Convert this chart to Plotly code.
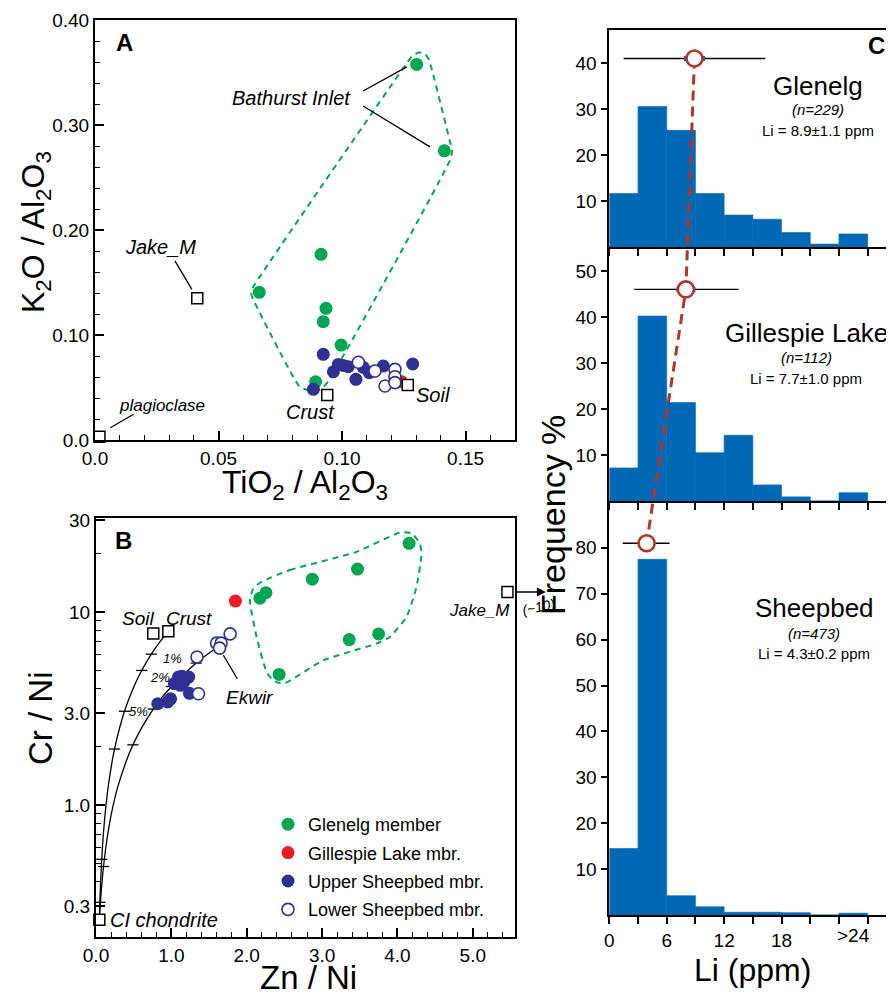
import math
import plotly.graph_objects as go

# The page has an 8px body margin, so the figure is drawn 8px in from the window's corner.
OFF = 8
FW, FH = 886, 988
FONT = "Liberation Sans, Arial, Helvetica, sans-serif"
GREEN = "#00a651"
RED = "#ed1c24"
NAVY = "#2e3192"
HBLUE = "#0068b5"
MEANRED = "#b2352b"

# ---------------- Panel A : K2O/Al2O3 vs TiO2/Al2O3 ----------------
a_glenelg_x = [0.1302, 0.1414, 0.0915, 0.0665, 0.0935, 0.0924, 0.0996, 0.0893]
a_glenelg_y = [0.3577, 0.2754, 0.1768, 0.1406, 0.1254, 0.1127, 0.0904, 0.0555]
a_gillespie_x = [0.1241]
a_gillespie_y = [0.0555]
a_upper_x = [0.0924, 0.0884, 0.0965, 0.0985, 0.1005, 0.1025, 0.1056, 0.1086, 0.1110, 0.1167, 0.1286]
a_upper_y = [0.0816, 0.0483, 0.0650, 0.0720, 0.0710, 0.0698, 0.0578, 0.0692, 0.0641, 0.0704, 0.0724]
a_lower_x = [0.1066, 0.1133, 0.1174, 0.1214, 0.1214, 0.1214]
a_lower_y = [0.0740, 0.0657, 0.0514, 0.0673, 0.0603, 0.0546]
a_ref_names = ["plagioclase", "Jake_M", "Crust", "Soil"]
a_ref_x = [0.0018, 0.0414, 0.0940, 0.1266]
a_ref_y = [0.0031, 0.1349, 0.0428, 0.0524]
a_field_x = [0.0641, 0.0632, 0.0640, 0.0828, 0.0870, 0.0912, 0.0945, 0.1440, 0.1445, 0.1438,
             0.1352, 0.1335, 0.1310, 0.1285, 0.1262, 0.0641]
a_field_y = [0.146, 0.140, 0.134, 0.0507, 0.0470, 0.0480, 0.0560, 0.268, 0.276, 0.283,
             0.362, 0.368, 0.369, 0.366, 0.359, 0.146]

# ---------------- Panel B : Cr/Ni vs Zn/Ni ----------------
b_glenelg_x = [4.155, 3.47, 2.87, 2.255, 2.175, 3.36, 3.75, 2.43]
b_glenelg_y = [22.7, 16.7, 14.8, 12.6, 11.8, 7.2, 7.7, 4.75]
b_gillespie_x = [1.85]
b_gillespie_y = [11.4]
b_upper_x = [0.82, 0.95, 0.99, 1.04, 1.095, 1.14, 1.19, 1.23, 1.12, 1.16, 1.24]
b_upper_y = [3.35, 3.42, 3.55, 4.26, 4.6, 4.65, 4.52, 4.6, 4.17, 4.3, 3.79]
b_lower_x = [1.34, 1.36, 1.60, 1.66, 1.64, 1.78]
b_lower_y = [5.85, 3.77, 6.9, 6.9, 6.5, 7.7]
b_ref_names = ["CI chondrite", "Soil", "Crust", "Jake_M"]
b_ref_x = [0.044, 0.76, 0.96, 5.46]
b_ref_y = [0.254, 7.73, 7.95, 12.7]
b_field_x = [2.197, 2.573, 3.457, 4.032, 4.187, 4.297, 4.319, 4.253, 4.121, 3.899, 3.722,
             3.015, 2.484, 2.352, 2.264, 2.131, 2.042, 2.086, 2.197]
b_field_y = [14.35, 16.5, 20.5, 25.8, 25.6, 22.7, 20.1, 13.5, 9.44, 7.43, 6.86,
             5.62, 4.25, 4.42, 4.89, 7.43, 11.5, 13.2, 14.35]
mix_crust_x = [0.044, 0.051, 0.060, 0.076, 0.10, 0.13, 0.17, 0.246, 0.378, 0.52, 0.607, 0.734, 0.85, 0.96]
mix_crust_y = [0.254, 0.313, 0.388, 0.523, 0.724, 0.976, 1.312, 1.951, 3.06, 4.25, 4.98, 6.05, 7.02, 7.95]
mix_ekwir_x = [0.044, 0.055, 0.07, 0.10, 0.14, 0.20, 0.29, 0.49, 0.76, 1.0, 1.33, 1.62]
mix_ekwir_y = [0.254, 0.298, 0.359, 0.480, 0.641, 0.883, 1.245, 2.05, 3.14, 4.11, 5.44, 6.60]
mix_ticks_x = [0.734, 0.607, 0.378, 0.246, 0.076, 0.051, 1.33, 1.0, 0.76, 0.49, 0.10]
mix_ticks_y = [6.05, 4.98, 3.06, 1.95, 0.523, 0.313, 5.44, 4.11, 3.14, 2.05, 0.48]

# ---------------- Panel C : Li histograms ----------------
li_bin_centers = [1.5, 4.5, 7.5, 10.5, 13.5, 16.5, 19.5, 22.5, 25.5]
li_glenelg = [11.7, 30.6, 25.4, 11.7, 7.0, 6.1, 3.2, 0.7, 2.9]
li_gillespie = [7.2, 40.2, 21.4, 10.5, 14.3, 3.5, 0.9, 0.0, 1.8]
li_sheepbed = [14.5, 77.5, 4.2, 1.8, 0.6, 0.6, 0.5, 0.0, 0.4]
li_mean_x = [8.9, 8.0, 3.9]
li_mean_h = [41, 46, 81]
li_sd_minus = [7.4, 5.4, 2.5]
li_sd_plus = [7.4, 5.5, 2.4]
li_se = [1.1, 1.0, 0.2]
li_titles = ["Glenelg", "Gillespie Lake", "Sheepbed"]
li_n = ["(n=229)", "(n=112)", "(n=473)"]
li_stats = ["Li = 8.9±1.1 ppm", "Li = 7.7±1.0 ppm", "Li = 4.3±0.2 ppm"]
li_ticktext = ["0", "", "6", "", "12", "", "18", "", "", ""]


def xdom(p0, p1):
    return [max((p0 - OFF) / FW, 0.0), min((p1 - OFF) / FW, 1.0)]


def ydom(top, bot):
    return [max(1 - (bot - OFF) / FH, 0.0), min(1 - (top - OFF) / FH, 1.0)]


def P(px, py):
    return (px - OFF) / FW, 1 - (py - OFF) / FH


# pixel layout of panels (window pixels)
A_X, A_Y = (95, 515), (20, 440)
B_X, B_Y = (96, 515), (518, 937)
C_X = (609.3, 894)
C_PANELS = [(30, 247.3, 47.2), (247.3, 501, 55.15), (501, 915, 90.2)]
C_XMAX = 29.75


def overlay_y(i, v):
    top, bot, rmax = C_PANELS[i]
    py = bot - v / rmax * (bot - top)
    return (915 - py) / (915 - 30)


fig = go.Figure()


def pts(x, y, xa, ya, color, filled=True, name=None, legend=False, size=13):
    if filled:
        m = dict(size=size, color=color, line=dict(width=0))
    else:
        m = dict(size=size - 1, color="white", line=dict(width=1.6, color=color))
    return go.Scatter(x=x, y=y, xaxis=xa, yaxis=ya, mode="markers", marker=m,
                      name=name, showlegend=legend, legendgroup=name, hoverinfo="skip")


def squares(x, y, xa, ya):
    return go.Scatter(x=x, y=y, xaxis=xa, yaxis=ya, mode="markers", showlegend=False,
                      marker=dict(symbol="square", size=11, color="white",
                                  line=dict(width=1.5, color="black")),
                      cliponaxis=False, hoverinfo="skip")


# Panel A traces
fig.add_trace(go.Scatter(x=a_field_x, y=a_field_y, xaxis="x", yaxis="y", mode="lines",
                         line=dict(color=GREEN, width=2, dash="6px,5px", shape="spline", smoothing=0.4),
                         showlegend=False, hoverinfo="skip"))
fig.add_trace(pts(a_glenelg_x, a_glenelg_y, "x", "y", GREEN))
fig.add_trace(pts(a_gillespie_x, a_gillespie_y, "x", "y", RED))
fig.add_trace(pts(a_upper_x, a_upper_y, "x", "y", NAVY))
fig.add_trace(pts(a_lower_x, a_lower_y, "x", "y", NAVY, filled=False))
fig.add_trace(squares(a_ref_x, a_ref_y, "x", "y"))

# Panel B traces
fig.add_trace(go.Scatter(x=b_field_x, y=b_field_y, xaxis="x2", yaxis="y2", mode="lines",
                         line=dict(color=GREEN, width=2, dash="6px,5px", shape="spline", smoothing=0.5),
                         showlegend=False, hoverinfo="skip"))
for mx, my in [(mix_crust_x, mix_crust_y), (mix_ekwir_x, mix_ekwir_y)]:
    fig.add_trace(go.Scatter(x=mx, y=my, xaxis="x2", yaxis="y2", mode="lines",
                             line=dict(color="black", width=1.3, shape="spline"),
                             showlegend=False, hoverinfo="skip", cliponaxis=False))
fig.add_trace(go.Scatter(x=mix_ticks_x, y=mix_ticks_y, xaxis="x2", yaxis="y2", mode="markers",
                         marker=dict(symbol="line-ew", size=8, line=dict(width=1.3, color="black")),
                         showlegend=False, hoverinfo="skip"))
fig.add_trace(pts(b_glenelg_x, b_glenelg_y, "x2", "y2", GREEN, name="Glenelg member", legend=True))
fig.add_trace(pts(b_gillespie_x, b_gillespie_y, "x2", "y2", RED, name="Gillespie Lake mbr.", legend=True))
fig.add_trace(pts(b_upper_x, b_upper_y, "x2", "y2", NAVY, name="Upper Sheepbed mbr.", legend=True))
fig.add_trace(pts(b_lower_x, b_lower_y, "x2", "y2", NAVY, filled=False, name="Lower Sheepbed mbr.", legend=True))
fig.add_trace(squares(b_ref_x, b_ref_y, "x2", "y2"))

# Panel C histograms
for k, vals in enumerate([li_glenelg, li_gillespie, li_sheepbed]):
    fig.add_trace(go.Bar(x=li_bin_centers, y=vals, width=3, xaxis="x%d" % (k + 3), yaxis="y%d" % (k + 3),
                         marker=dict(color=HBLUE, line=dict(width=0.6, color=HBLUE)),
                         showlegend=False, hoverinfo="skip"))

# overlay: means, error bars and dashed connector
oy = [overlay_y(i, v) for i, v in enumerate(li_mean_h)]
fig.add_trace(go.Scatter(x=li_mean_x, y=oy, xaxis="x6", yaxis="y6", mode="lines",
                         line=dict(color=MEANRED, width=3, dash="10px,6px"), showlegend=False, hoverinfo="skip"))
fig.add_trace(go.Scatter(x=li_mean_x, y=oy, xaxis="x6", yaxis="y6", mode="markers",
                         marker=dict(size=2, color="rgba(0,0,0,0)"),
                         error_x=dict(type="data", symmetric=False, array=li_sd_plus, arrayminus=li_sd_minus,
                                      color="black", thickness=1.4, width=0),
                         showlegend=False, hoverinfo="skip"))
fig.add_trace(go.Scatter(x=li_mean_x, y=oy, xaxis="x6", yaxis="y6", mode="markers",
                         marker=dict(size=2, color="rgba(0,0,0,0)"),
                         error_x=dict(type="data", array=li_se, color=HBLUE, thickness=5, width=0),
                         showlegend=False, hoverinfo="skip"))
fig.add_trace(go.Scatter(x=li_mean_x, y=oy, xaxis="x6", yaxis="y6", mode="markers",
                         marker=dict(size=16, color="white", line=dict(width=2.6, color=MEANRED)),
                         showlegend=False, hoverinfo="skip", cliponaxis=False))

# ---------------- axes ----------------
tickfont = dict(family=FONT, size=19, color="black")
box = dict(showline=True, linecolor="black", linewidth=2, mirror=True, showgrid=False, zeroline=False,
           ticks="inside", ticklen=9, tickwidth=1.5, tickcolor="black", tickfont=tickfont, automargin=False)

layout_axes = dict(
    xaxis=dict(domain=xdom(*A_X), range=[0, 0.17], tickvals=[0, 0.05, 0.10, 0.15],
               ticktext=["0.0", "0.05", "0.10", "0.15"], anchor="y",
               minor=dict(ticks="inside", ticklen=5, tickwidth=1.2, dtick=0.01, tick0=0, tickcolor="black"), **box),
    yaxis=dict(domain=ydom(*A_Y), range=[0, 0.40], tickvals=[0, 0.1, 0.2, 0.3, 0.4],
               ticktext=["0.0", "0.10", "0.20", "0.30", "0.40"], anchor="x",
               minor=dict(ticks="inside", ticklen=5, tickwidth=1.2, dtick=0.02, tick0=0, tickcolor="black"), **box),
    xaxis2=dict(domain=xdom(*B_X), range=[0, 5.56], tickvals=[0, 1, 2, 3, 4, 5],
                ticktext=["0.0", "1.0", "2.0", "3.0", "4.0", "5.0"], anchor="y2",
                minor=dict(ticks="inside", ticklen=5, tickwidth=1.2, dtick=0.2, tick0=0, tickcolor="black"), **box),
    yaxis2=dict(domain=ydom(*B_Y), type="log", range=[math.log10(0.207), math.log10(30.7)],
                tickvals=[0.3, 1, 3, 10, 30], ticktext=["0.3", "1.0", "3.0", "10", "30"], anchor="x2",
                minor=dict(ticks="inside", ticklen=5, tickwidth=1.2, tickcolor="black",
                           tickvals=[0.4, 0.5, 0.6, 0.7, 0.8, 0.9, 2, 4, 5, 6, 7, 8, 9, 20]), **box),
)

c_ticks = [0, 3, 6, 9, 12, 15, 18, 21, 24, 27]
c_yt = [[10, 20, 30, 40], [10, 20, 30, 40, 50], [10, 20, 30, 40, 50, 60, 70, 80]]
for k in range(3):
    top, bot, rmax = C_PANELS[k]
    n = k + 3
    layout_axes["xaxis%d" % n] = dict(domain=xdom(*C_X), range=[0, C_XMAX], anchor="y%d" % n,
                                      showline=True, linecolor="black", linewidth=1.6,
                                      mirror=(k == 0), showgrid=False, zeroline=False,
                                      tickvals=c_ticks, ticktext=li_ticktext, ticks="outside", ticklen=7,
                                      tickwidth=1.5, tickcolor="black", showticklabels=(k == 2),
                                      tickfont=tickfont, automargin=False)
    layout_axes["yaxis%d" % n] = dict(domain=ydom(top, bot), range=[0, rmax], anchor="x%d" % n,
                                      showline=True, linecolor="black", linewidth=1.6, showgrid=False,
                                      zeroline=False, tickvals=c_yt[k], ticks="outside", ticklen=7,
                                      tickwidth=1.5, tickcolor="black", tickfont=tickfont, automargin=False)
layout_axes["xaxis6"] = dict(domain=xdom(*C_X), range=[0, C_XMAX], anchor="y6", visible=False)
layout_axes["yaxis6"] = dict(domain=ydom(30, 915), range=[0, 1], anchor="x6", visible=False)

fig.update_layout(**layout_axes)

# ---------------- annotations ----------------
ann = []


def text(px, py, s, size, angle=0, bold=False, italic=False, xanchor="center"):
    if bold:
        s = "<b>%s</b>" % s
    if italic:
        s = "<i>%s</i>" % s
    x, y = P(px, py)
    ann.append(dict(x=x, y=y, xref="paper", yref="paper", text=s, showarrow=False, textangle=angle,
                    xanchor=xanchor, yanchor="middle", font=dict(family=FONT, size=size, color="black")))


def pointer(x, y, ax, ay, xa, ya, head=0, width=1.3):
    ann.append(dict(x=x, y=y, ax=ax, ay=ay, xref=xa, yref=ya, axref=xa, ayref=ya, text="",
                    showarrow=True, arrowhead=head, arrowsize=1.2, arrowwidth=width, arrowcolor="black",
                    standoff=0, startstandoff=0))


# Panel A
text(124, 43, "A", 24, bold=True)
text(291.7, 98, "Bathurst Inlet", 20, italic=True)
text(160, 247, "Jake_M", 20, italic=True)
text(162, 405, "plagioclase", 17, italic=True)
text(310, 412, "Crust", 20, italic=True)
text(433, 395, "Soil", 20, italic=True)
text(35, 232, "K<sub>2</sub>O / Al<sub>2</sub>O<sub>3</sub>", 32, angle=-90)
text(305, 485, "TiO<sub>2</sub> / Al<sub>2</sub>O<sub>3</sub>", 32)
pointer(0.1262, 0.3554, 0.1079, 0.3316, "x", "y")
pointer(0.1356, 0.2792, 0.1079, 0.3189, "x", "y")
pointer(0.0392, 0.1435, 0.0320, 0.1720, "x", "y")
pointer(0.0062, 0.0117, 0.0162, 0.0254, "x", "y")

# Panel B
text(123, 540, "B", 24, bold=True)
text(138, 618, "Soil", 19, italic=True)
text(189, 618, "Crust", 19, italic=True)
text(172, 658, "1%", 13, italic=True)
text(160, 677, "2%", 13, italic=True)
text(138, 711, "5%", 13, italic=True)
text(249.5, 697, "Ekwir", 19, italic=True)
text(164, 920, "CI chondrite", 20, italic=True)
text(480, 610, "Jake_M", 17, italic=True)
text(538, 607, "(~10)", 14, angle=-12, italic=True)
text(40, 718, "Cr / Ni", 33, angle=-90)
text(308, 977, "Zn / Ni", 33)
pointer(1.69, math.log10(5.97), 1.887, math.log10(4.43), "x2", "y2")
pointer(5.97, math.log10(12.7), 5.54, math.log10(12.7), "x2", "y2", head=2, width=1.5)

# Panel C
text(876, 45, "C", 24, bold=True)
c_text_pos = [(818, 86, 109, 130), (806, 333, 357, 378), (814, 608, 633, 653)]
for k in range(3):
    cx, y1, y2, y3 = c_text_pos[k]
    text(cx, y1, li_titles[k], 26)
    text(cx, y2, li_n[k], 15, italic=True)
    text(cx, y3, li_stats[k], 15)
text(553, 515, "Frequency %", 34, angle=-90)
text(752, 970, "Li (ppm)", 32)
ann.append(dict(x=25.5, y=1 - (935 - OFF) / FH, xref="x5", yref="paper", text=">24", showarrow=False,
                font=dict(family=FONT, size=19, color="black"), yanchor="middle"))

lx, ly = P(268, 806)
fig.update_layout(
    annotations=ann,
    width=FW, height=FH,
    margin=dict(l=0, r=0, t=0, b=0, pad=0, autoexpand=False),
    paper_bgcolor="white", plot_bgcolor="rgba(0,0,0,0)",
    font=dict(family=FONT, color="black"),
    showlegend=True,
    legend=dict(x=lx, y=ly, xanchor="left", yanchor="top",
                font=dict(family=FONT, size=18, color="black"), bgcolor="rgba(0,0,0,0)",
                tracegroupgap=2, itemclick=False),
)

# keep the window free of scrollbars so the full 894x996 area shows the figure
fig.write_html("out.html", post_script=(
    "document.documentElement.style.overflow='hidden';"
    "document.body.style.overflow='hidden';"))
